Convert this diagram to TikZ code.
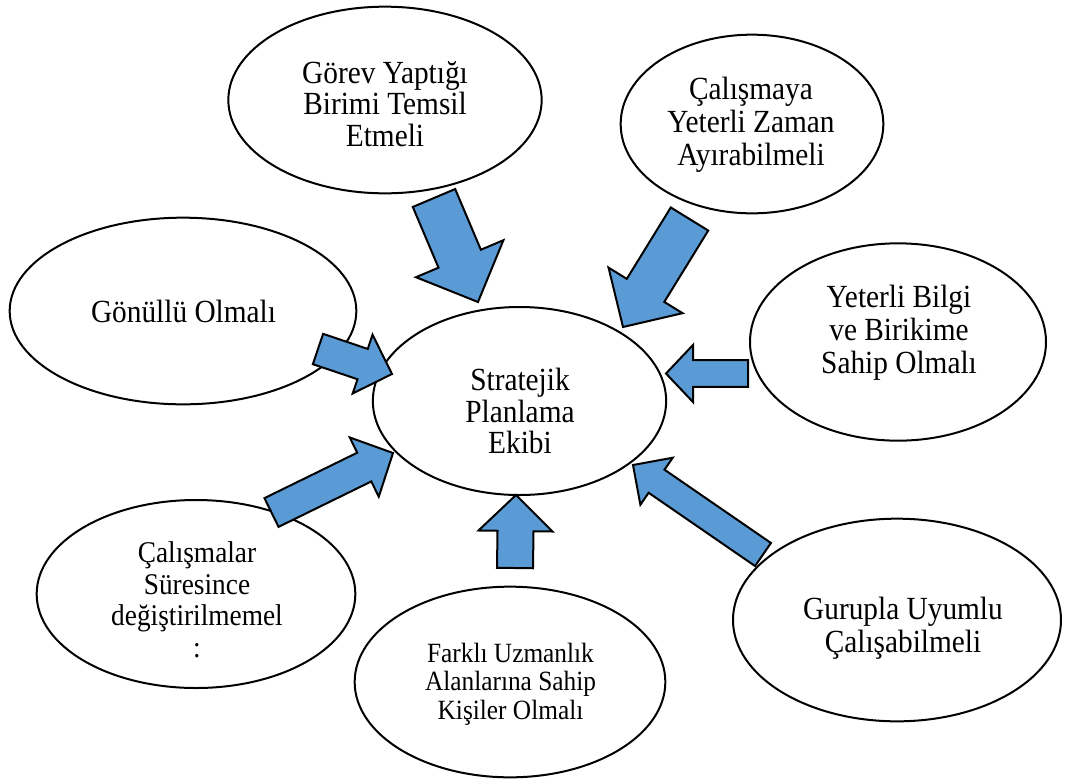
\documentclass[tikz,border=0pt]{standalone}
\usepackage{fontspec}
\setmainfont{Liberation Serif}
\usetikzlibrary{shapes.geometric,calc}

\definecolor{arrowblue}{HTML}{5B9BD5}

\tikzset{
  bubble/.style={draw=black, line width=1.5pt, fill=white, ellipse, inner sep=0pt},
  bubbletext/.style={align=center, inner sep=0pt, yscale=1.1, transform shape,
                     font=\fontsize{22}{21.5}\selectfont},
  bigarrow/.style={draw=black, line width=1.5pt, fill=arrowblue, line join=miter},
}

% block arrow: tail, tip, shaft half-width, head half-width, head length
\newcommand{\blockarrow}[5]{%
  \coordinate (ba-h) at ($(#2)!#5!(#1)$);
  \draw[bigarrow] ($(#1)!#3!90:(#2)$) -- ($(ba-h)!#3!-90:(#1)$)
    -- ($(ba-h)!#4!-90:(#1)$) -- (#2) -- ($(ba-h)!#4!90:(#1)$)
    -- ($(ba-h)!#3!90:(#1)$) -- ($(#1)!#3!-90:(#2)$) -- cycle;
}

\begin{document}
\begin{tikzpicture}[x=0.75pt, y=-0.75pt]
\useasboundingbox (0,0) rectangle (1065,783);

% ellipses
\node[bubble, minimum width=235pt, minimum height=140pt] (gorev)   at (385,100) {};
\node[bubble, minimum width=197pt, minimum height=134pt] (zaman)   at (752,124) {};
\node[bubble, minimum width=260pt, minimum height=140pt] (gonullu) at (183,311) {};
\node[bubble, minimum width=222pt, minimum height=148pt] (bilgi)   at (898,342) {};
\node[bubble, minimum width=220pt, minimum height=141pt] (ekip)    at (519.5,401) {};
\node[bubble, minimum width=239pt, minimum height=141pt] (sure)    at (196,594) {};
\node[bubble, minimum width=233pt, minimum height=143pt] (uzman)   at (510,682) {};
\node[bubble, minimum width=246pt, minimum height=152pt] (uyum)    at (897,620) {};

% texts
\node[bubbletext] (gorev-t)   at (385,104)   {Görev Yaptığı\\Birimi Temsil\\Etmeli};
\node[bubbletext, font=\fontsize{22}{22.5}\selectfont] (zaman-t) at (751,125)
  {Çalışmaya\\Yeterli Zaman\\Ayırabilmeli};
\node[bubbletext] (gonullu-t) at (183.5,311) {Gönüllü Olmalı};
\node[bubbletext, font=\fontsize{22}{22.5}\selectfont] (bilgi-t) at (899,333)
  {Yeterli Bilgi\\ve Birikime\\Sahip Olmalı};
\node[bubbletext] (ekip-t)    at (520,411)   {Stratejik\\Planlama\\Ekibi};
\node[bubbletext, font=\fontsize{20.5}{21.5}\selectfont] (sure-t) at (197,600)
  {Çalışmalar\\Süresince\\değiştirilmemel\\:};
\node[bubbletext, font=\fontsize{19}{19.5}\selectfont] (uzman-t) at (510.5,684)
  {Farklı Uzmanlık\\Alanlarına Sahip\\Kişiler Olmalı};
\node[bubbletext, font=\fontsize{22}{22.5}\selectfont] (uyum-t) at (903,628.5)
  {Gurupla Uyumlu\\Çalışabilmeli};

% arrow ends
\coordinate (a1s) at (434,198);   \coordinate (a1e) at (478,302);
\coordinate (a2s) at (689.5,219); \coordinate (a2e) at (623,327);
\coordinate (a3s) at (318,349);   \coordinate (a3e) at (392,374);
\coordinate (a4s) at (748,373.5); \coordinate (a4e) at (666,373.5);
\coordinate (a5s) at (763,554.5); \coordinate (a5e) at (633,465);
\coordinate (a6s) at (515,568);   \coordinate (a6e) at (516,495);
\coordinate (a7s) at (271.5,512.5); \coordinate (a7e) at (393,453);

% block arrows pointing at the team
\blockarrow{a1s}{a1e}{17.25pt}{35.6pt}{35.25pt}
\blockarrow{a2s}{a2e}{16.5pt}{32.6pt}{32.25pt}
\blockarrow{a3s}{a3e}{12pt}{23.25pt}{23.25pt}
\blockarrow{a4s}{a4e}{10.1pt}{21.4pt}{20.25pt}
\blockarrow{a5s}{a5e}{10.5pt}{21.4pt}{21.45pt}
\blockarrow{a6s}{a6e}{13.5pt}{27.75pt}{27pt}
\blockarrow{a7s}{a7e}{12pt}{24.75pt}{24pt}
\end{tikzpicture}
\end{document}
